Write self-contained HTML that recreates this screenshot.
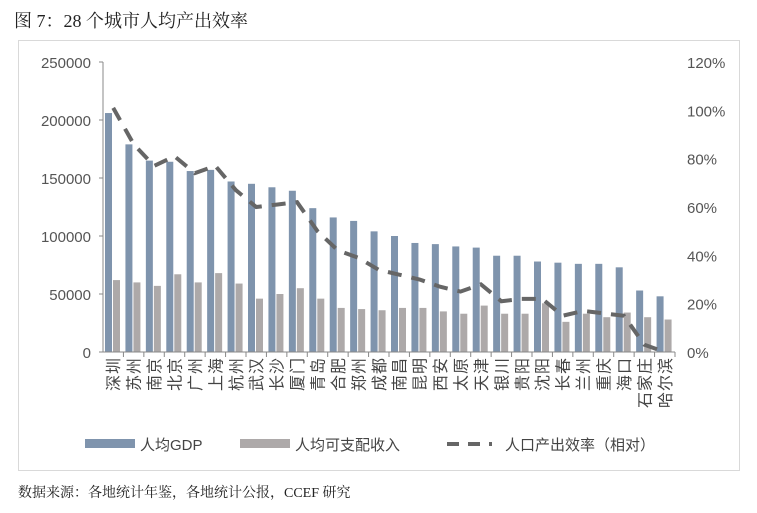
<!DOCTYPE html>
<html><head><meta charset="utf-8">
<style>
body{margin:0;background:#fff;width:757px;height:508px;overflow:hidden;font-family:"Liberation Sans","Noto Sans CJK SC",sans-serif;}
svg text{font-family:"Liberation Sans","Noto Sans CJK SC",sans-serif;}
</style></head>
<body>
<svg id="chart" width="757" height="508" xmlns="http://www.w3.org/2000/svg">
<text x="14" y="27" font-size="18" fill="#222" style="font-family:'Liberation Serif','Noto Serif CJK SC',serif">图 7：28 个城市人均产出效率</text>
<rect x="18.5" y="40.5" width="721" height="430" fill="#fff" stroke="#d9d9d9"/>
<g id="plot"></g>
<g>
<rect x="85" y="439" width="50" height="9" fill="#7f94ad"/>
<text x="140" y="450" font-size="15" fill="#444">人均GDP</text>
<rect x="240" y="439" width="50" height="9" fill="#ada9a9"/>
<text x="295" y="450" font-size="15" fill="#444">人均可支配收入</text>
<line x1="447" y1="444" x2="492" y2="444" stroke="#666" stroke-width="4" stroke-dasharray="12,9"/>
<text x="505" y="450" font-size="15" fill="#444">人口产出效率（相对）</text>
</g>
<text x="18" y="497" font-size="14" fill="#222" style="font-family:'Liberation Serif','Noto Serif CJK SC',serif">数据来源：各地统计年鉴，各地统计公报，CCEF 研究</text>
</svg>
<script>
const cities=["深圳","苏州","南京","北京","广州","上海","杭州","武汉","长沙","厦门","青岛","合肥","郑州","成都","南昌","昆明","西安","太原","天津","银川","贵阳","沈阳","长春","兰州","重庆","海口","石家庄","哈尔滨"];
const gdp=[206000,179000,165000,164000,156000,157000,147000,145000,142000,139000,124000,116000,113000,104000,100000,94000,93000,91000,90000,83000,83000,78000,77000,76000,76000,73000,53000,48000];
const income=[62000,60000,57000,67000,60000,68000,59000,46000,50000,55000,46000,38000,37000,36000,38000,38000,35000,33000,40000,33000,33000,42000,26000,33000,30000,34000,30000,28000];
const efficiency=[101,86,77,81,74,77,67,60,61,62,50,42,39,34,32,30,27,25,28,21,22,22,15,17,16,15,3,0];
const leftTicks=[0,50000,100000,150000,200000,250000];
const rightTicks=[0,20,40,60,80,100,120];

const NS="http://www.w3.org/2000/svg";
const g=document.getElementById('plot');
const X0=103,X1=675,Y0=352,Y1=62;
const yL=v=>Y0-(v/250000)*(Y0-Y1);
const yR=v=>Y0-(v/120)*(Y0-Y1);
const step=(X1-X0)/cities.length;
const xc=i=>X0+step*(i+0.5);
function el(t,a){const e=document.createElementNS(NS,t);for(const k in a)e.setAttribute(k,a[k]);g.appendChild(e);return e;}

leftTicks.forEach(v=>{
 const t=el('text',{x:91,y:yL(v)+6,'font-size':15,fill:'#555','text-anchor':'end'});t.textContent=v;
 
 
 const l=el('line',{x1:X0-4,x2:X0,y1:yL(v),y2:yL(v),stroke:'#888'});
 
 
});
rightTicks.forEach(v=>{
 const t=el('text',{x:687,y:yR(v)+6,'font-size':15,fill:'#555'});t.textContent=v+'%';
 
 
});
cities.forEach((c,i)=>{
 const x=X0+step*i;
 const b=el('rect',{x:x+2,y:yL(gdp[i]),width:7,height:Y0-yL(gdp[i]),fill:'#7f94ad'});
 
 
 const b2=el('rect',{x:x+10,y:yL(income[i]),width:7,height:Y0-yL(income[i]),fill:'#ada9a9'});
 
 
 const tk=el('line',{x1:x+step,x2:x+step,y1:Y0,y2:Y0+5,stroke:'#888'});
 
 
 const chars=c.split('');
 const n=chars.length;
 chars.forEach((ch,j)=>{
  const k=n-1-j; // position from top
  const cy=Y0+14+k*17;
  const t=el('text',{x:xc(i),y:cy+6,'font-size':16,fill:'#444','text-anchor':'middle',transform:`rotate(-90 ${xc(i)} ${cy})`});
  t.textContent=ch;
  
  
 });
});
const ax=el('line',{x1:X0,x2:X0,y1:Y1,y2:Y0,stroke:'#888'});


const bx=el('line',{x1:X0,x2:X1,y1:Y0,y2:Y0,stroke:'#888'});


const d=efficiency.map((v,i)=>(i?'L':'M')+xc(i)+' '+yR(v)).join(' ');
const p=el('path',{d:d,fill:'none',stroke:'#666','stroke-width':4,'stroke-dasharray':'14,10'});


</script>
</body></html>
